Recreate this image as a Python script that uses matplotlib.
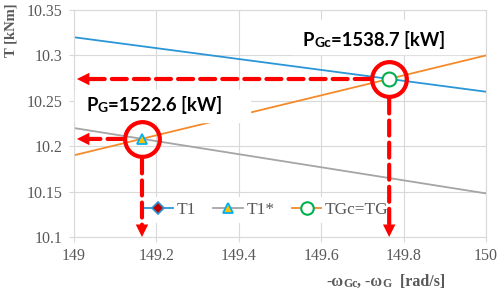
import matplotlib
matplotlib.use("Agg")

import matplotlib.pyplot as plt
from matplotlib.lines import Line2D
from matplotlib.patches import Rectangle
from matplotlib.ticker import FuncFormatter


# ======================================================================================== #
# Dados.
# ======================================================================================== #

omega = [149.0, 150.0]
torque_t1 = [10.320, 10.260]
torque_t1_estrela = [10.220, 10.148]
torque_tgc = [10.190, 10.300]

# pontos de operação (PG e PGc)
omega_pontos = [149.165, 149.765]
torque_pontos = [10.208, 10.274]
potencias_kw = [1522.6, 1538.7]

nomes_series = ["T1", "T1*", "TGc=TG"]

x_ticks = [149, 149.2, 149.4, 149.6, 149.8, 150]
y_ticks = [10.1, 10.15, 10.2, 10.25, 10.3, 10.35]


# ======================================================================================== #
# Estilos.
# ======================================================================================== #

COR_AZUL = "#2A96D8"
COR_LARANJA = "#F58A2A"
COR_CINZA = "#A5A5A5"
COR_GRADE = "#D9D9D9"
COR_TEXTO = "#595959"
VERMELHO = "#FF0000"

FONTE_SERIF = ["Liberation Serif", "DejaVu Serif"]
FONTE_SANS = "Lato"

plt.rcParams["font.family"] = FONTE_SERIF


def texto_composto(ax, x, y, partes, transform, **kwargs):
    """
    Escreve um texto em pedaços de tamanhos diferentes, um ao lado do outro.
    """

    anterior = ax.text(
        x, y, partes[0][0], fontsize=partes[0][1], transform=transform,
        ha="left", va="bottom", **kwargs,
    )

    for texto, tamanho in partes[1:]:
        anterior = ax.annotate(
            texto, xy=(1, 0), xycoords=anterior, fontsize=tamanho,
            ha="left", va="bottom", annotation_clip=False, **kwargs,
        )

    return anterior


def seta_tracejada(ax, ponto, ponta, vertical=False):
    """
    Seta vermelha tracejada saindo da borda do círculo até o eixo.
    """

    ax.annotate(
        "", xy=ponta, xytext=ponto,
        arrowprops=dict(
            arrowstyle="-", color=VERMELHO, lw=3, linestyle=(0, (3.6, 1.7)),
            shrinkA=14, shrinkB=7,
        ),
        zorder=6,
    )

    deslocamento = (0, 12) if vertical else (12, 0)

    ax.annotate(
        "", xy=ponta, xytext=deslocamento, textcoords="offset points",
        arrowprops=dict(
            arrowstyle="-|>,head_length=0.9,head_width=0.45",
            color=VERMELHO, lw=0, shrinkA=0, shrinkB=0,
        ),
        zorder=6,
    )


fig = plt.figure(figsize=(4.98, 2.91), dpi=100)
ax = fig.add_axes([74 / 498, 1 - 237 / 291, 412 / 498, 227 / 291])

# ======================================================================================== #
# Linhas.
# ======================================================================================== #
ax.plot(omega, torque_t1, color=COR_AZUL, lw=1.3, zorder=2)
ax.plot(omega, torque_t1_estrela, color=COR_CINZA, lw=1.3, zorder=2)
ax.plot(omega, torque_tgc, color=COR_LARANJA, lw=1.3, zorder=2)

ax.plot(
    omega_pontos[0], torque_pontos[0], marker="^", ms=7,
    mfc="#FFC000", mec="#00B0F0", mew=1.3, zorder=4,
)
ax.plot(
    omega_pontos[1], torque_pontos[1], marker="o", ms=10,
    mfc="white", mec="#00B050", mew=1.5, zorder=4,
)

# círculos vermelhos em volta dos pontos
ax.plot(
    omega_pontos, torque_pontos, ls="none", marker="o", ms=25,
    mfc="none", mec=VERMELHO, mew=3, zorder=6,
)

# ======================================================================================== #
# Eixos e grade.
# ======================================================================================== #
ax.set_xlim(149, 150)
ax.set_ylim(10.1, 10.35)
ax.set_xticks(x_ticks)
ax.set_yticks(y_ticks)

formato = FuncFormatter(lambda v, _: f"{v:g}")
ax.xaxis.set_major_formatter(formato)
ax.yaxis.set_major_formatter(formato)

ax.grid(True, color=COR_GRADE, lw=0.8, zorder=0)
ax.set_axisbelow(True)

for lado in ax.spines.values():
    lado.set_color(COR_GRADE)
    lado.set_linewidth(0.8)

ax.tick_params(
    axis="both", colors=COR_GRADE, labelcolor=COR_TEXTO,
    length=3.6, width=0.8, labelsize=11.5,
)
ax.tick_params(axis="y", pad=5)
ax.tick_params(axis="x", pad=4.3)

for rotulo in ax.get_xticklabels() + ax.get_yticklabels():
    rotulo.set_fontfamily(FONTE_SERIF)

# ======================================================================================== #
# Setas tracejadas.
# ======================================================================================== #
for omega_p, torque_p in zip(omega_pontos, torque_pontos):
    seta_tracejada(ax, (omega_p, torque_p), (149.007, torque_p))
    seta_tracejada(ax, (omega_p, torque_p), (omega_p, 10.1), vertical=True)

# ======================================================================================== #
# Textos das potências.
# ======================================================================================== #
ax.add_patch(Rectangle((149.002, 10.2267), 0.425, 0.0352, color="white", zorder=3))
ax.add_patch(Rectangle((149.529, 10.3015), 0.41, 0.0375, color="white", zorder=3))

estilo_sans = dict(family=FONTE_SANS, weight="bold", color="black", zorder=5)

texto_composto(
    ax, 149.03, 10.2355,
    [("P", 13.3), ("G", 10), (f"={potencias_kw[0]} [kW]", 13.3)],
    ax.transData, **estilo_sans,
)
texto_composto(
    ax, 149.555, 10.3065,
    [("P", 13.3), ("Gc", 10), (f"={potencias_kw[1]} [kW]", 13.3)],
    ax.transData, **estilo_sans,
)

# ======================================================================================== #
# Rótulos dos eixos.
# ======================================================================================== #
estilo_serif = dict(family=FONTE_SERIF, weight="bold", color=COR_TEXTO)

texto_composto(
    ax, 326 / 498, 0.005,
    [("-ω", 11.5), ("Gc", 8.5), (", -ω", 11.5), ("G", 8.5), ("  [rad/s]", 11.5)],
    fig.transFigure, **estilo_serif,
)

fig.text(
    0.022, 0.99, "T [kNm]", rotation=90, ha="center", va="top",
    fontsize=10.5, **estilo_serif,
)

# ======================================================================================== #
# Legenda.
# ======================================================================================== #
manipuladores = [
    Line2D([], [], color=COR_AZUL, lw=1.3, marker="D", ms=6,
           mfc="#C00000", mec=COR_AZUL, mew=1.2),
    Line2D([], [], color=COR_CINZA, lw=1.3, marker="^", ms=7,
           mfc="#FFC000", mec="#00B0F0", mew=1.3),
    Line2D([], [], color=COR_LARANJA, lw=1.3, marker="o", ms=9,
           mfc="white", mec="#00B050", mew=1.5),
]

legenda = ax.legend(
    manipuladores, nomes_series, loc="center", bbox_to_anchor=(0.466, 0.119),
    ncol=3, frameon=True, facecolor="white", edgecolor="none", framealpha=1,
    handlelength=1.7, handletextpad=0.2, columnspacing=1.0, borderpad=0.3,
    prop={"family": FONTE_SERIF, "size": 12.5},
)
legenda.set_zorder(5)
for texto in legenda.get_texts():
    texto.set_color(COR_TEXTO)

plt.savefig("out.png", dpi=100)
plt.close()
